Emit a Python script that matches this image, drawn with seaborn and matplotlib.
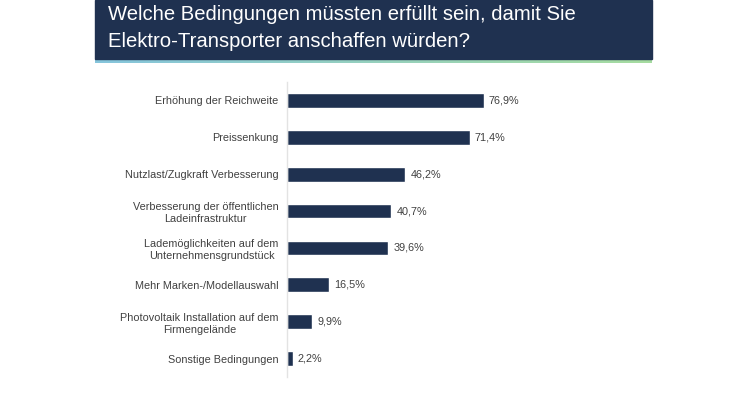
import numpy as np
import pandas as pd
import matplotlib
matplotlib.use("Agg")
import matplotlib.pyplot as plt
import seaborn as sns
from matplotlib.patches import Rectangle

# DATA
categories = [
    "Erhöhung der Reichweite",
    "Preissenkung",
    "Nutzlast/Zugkraft Verbesserung",
    "Verbesserung der öffentlichen\nLadeinfrastruktur",
    "Lademöglichkeiten auf dem\nUnternehmensgrundstück",
    "Mehr Marken-/Modellauswahl",
    "Photovoltaik Installation auf dem\nFirmengelände",
    "Sonstige Bedingungen",
]
values = [76.9, 71.4, 46.2, 40.7, 39.6, 16.5, 9.9, 2.2]
value_labels = ["76,9%", "71,4%", "46,2%", "40,7%", "39,6%", "16,5%", "9,9%", "2,2%"]
title = "Welche Bedingungen müssten erfüllt sein, damit Sie\nElektro-Transporter anschaffen würden?"

df = pd.DataFrame({"bedingung": categories, "anteil": values})

# CONFIG
sns.set_style("white")
plt.rcParams["font.family"] = ["Liberation Sans", "DejaVu Sans"]

navy = "#1f3150"
text_col = "#404040"

fig = plt.figure(figsize=(7.4, 4.0), dpi=100)

# header banner
W, H = 740, 400
fig.patches.append(Rectangle((95 / W, 1 - 59 / H), 557 / W, 59 / H,
                             transform=fig.transFigure, color=navy, zorder=0))
grad = np.linspace(0, 1, 256).reshape(1, -1)
gax = fig.add_axes([95 / W, 1 - 63 / H, 557 / W, 4 / H])
gax.imshow(grad, aspect="auto",
           cmap=matplotlib.colors.LinearSegmentedColormap.from_list("g", ["#86c5dc", "#a6dca0"]))
gax.axis("off")
fig.text(108 / W, 1 - 28 / H, title, color="white", fontsize=14.6,
         va="center", ha="left", linespacing=1.5)

# BAR CHART
ax = fig.add_axes([287 / W, 1 - 377 / H, 256 / W, 295 / H])
sns.barplot(data=df, x="anteil", y="bedingung", color=navy, width=0.4,
            saturation=1, ax=ax)
ax.set_xlim(0, 100)
ax.set_ylim(7.5, -0.5)
ax.set_xlabel("")
ax.set_ylabel("")
ax.set_xticks([])
for s in ["top", "right", "bottom"]:
    ax.spines[s].set_visible(False)
ax.spines["left"].set_color("#e3e3e3")
ax.spines["left"].set_linewidth(1)
ax.tick_params(axis="y", length=0, pad=6, labelsize=7.8, labelcolor=text_col)
for lbl in ax.get_yticklabels():
    lbl.set_horizontalalignment("right")
    lbl.set_multialignment("center")
    lbl.set_linespacing(1.3)

for i, (v, t) in enumerate(zip(values, value_labels)):
    ax.text(v + 2.0, i, t, va="center", ha="left", fontsize=7.8, color=text_col)

plt.savefig("out.png", dpi=100)
